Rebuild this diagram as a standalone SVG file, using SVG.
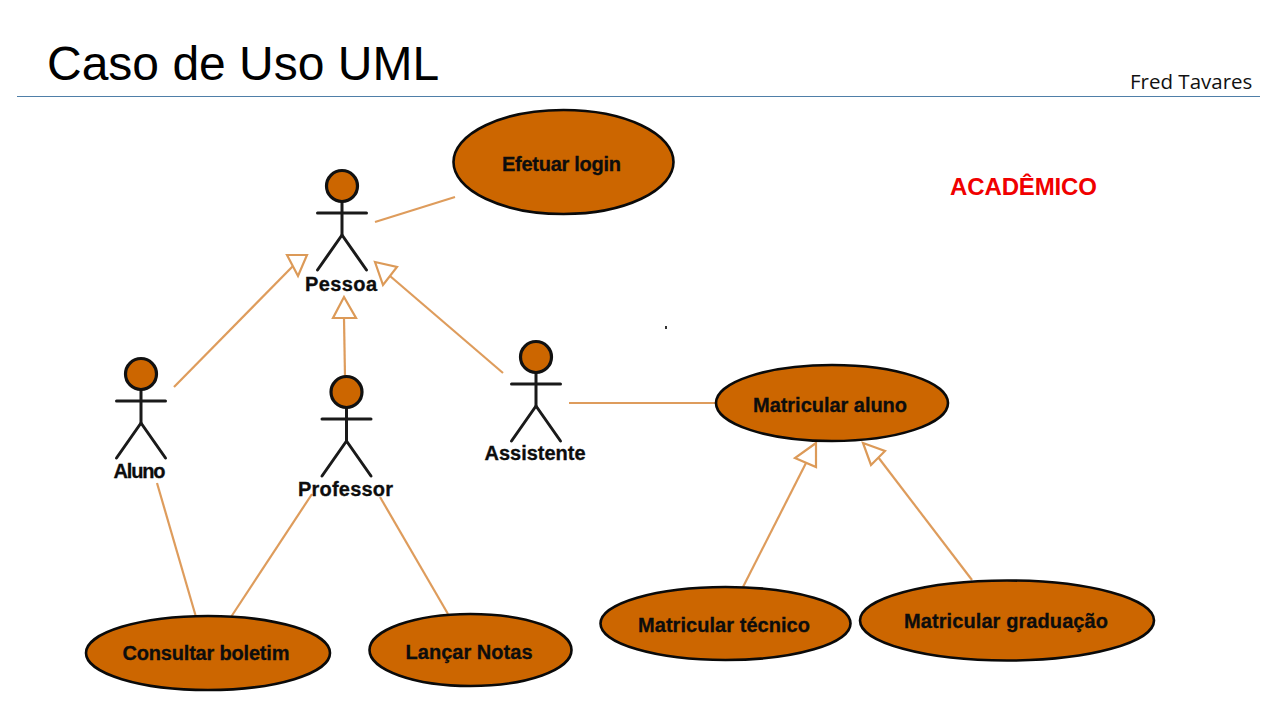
<svg xmlns="http://www.w3.org/2000/svg" xmlns:xlink="http://www.w3.org/1999/xlink" width="1280" height="720" viewBox="0 0 1280 720">
<style>
.uc{fill:#cc6600;stroke:#0a0a0a;stroke-width:2.6}
.head{fill:#cc6600;stroke:#111;stroke-width:3.2}
.lim{fill:none;stroke:#1a1a1a;stroke-width:3;stroke-linecap:round}
.lbl{font-family:"Liberation Sans",Arial,sans-serif;font-weight:700;font-size:20px;fill:#0d0d0d;stroke:#0d0d0d;stroke-width:.3;text-anchor:middle}
.c{fill:none;stroke:#de9c5c;stroke-width:2.2}
.tri{fill:#fff;stroke:#dc9a58;stroke-width:2.2;stroke-linejoin:miter}
</style>
<defs>
<g id="actor">
<line class="lim" x1="0" y1="16" x2="0" y2="49"/>
<line class="lim" x1="-24.500" y1="27" x2="24.500" y2="27"/>
<polyline class="lim" points="-24.500,84 0,49 24.500,84"/>
<circle class="head" cx="0" cy="0" r="15.500"/>
</g>
</defs>
<rect width="1280" height="720" fill="#fff"/>
<text x="47" y="80" font-family="Liberation Sans,Arial,sans-serif" font-size="48" fill="#000">Caso de Uso UML</text>
<text x="1130" y="89" font-family="Open Sans,sans-serif" font-size="20.500" fill="#111">Fred Tavares</text>
<line x1="17" y1="96.500" x2="1260" y2="96.500" stroke="#4f7fa8" stroke-width="1.200"/>
<text x="950" y="194.500" font-family="Liberation Sans,Arial,sans-serif" font-size="24" font-weight="700" fill="#f00000" textLength="147">ACADÊMICO</text>
<rect x="665" y="326" width="2" height="3" fill="#333"/>
<g id="connectors">
<line class="c" x1="375" y1="222" x2="455" y2="197"/>
<line class="c" x1="174" y1="387" x2="293" y2="266"/>
<polygon class="tri" points="307,255 287,255 298,276"/>
<line class="c" x1="345" y1="377" x2="344" y2="318"/>
<polygon class="tri" points="344,297 333,318 356,318"/>
<line class="c" x1="503" y1="373" x2="390" y2="276"/>
<polygon class="tri" points="375,262 397,267 383,285"/>
<line class="c" x1="569" y1="403" x2="716" y2="403"/>
<line class="c" x1="157" y1="483" x2="196" y2="617"/>
<line class="c" x1="312" y1="494" x2="231" y2="617"/>
<line class="c" x1="380" y1="497" x2="448" y2="614"/>
<line class="c" x1="743" y1="587" x2="806" y2="463"/>
<polygon class="tri" points="816,443 795,458 816,467"/>
<line class="c" x1="972" y1="580" x2="878" y2="457"/>
<polygon class="tri" points="863,443 885,451 871,465"/>
</g>
<g id="pessoa"><use xlink:href="#actor" href="#actor" x="342" y="186"/><text class="lbl" x="341" y="291" textLength="72">Pessoa</text></g>
<g id="aluno"><use xlink:href="#actor" href="#actor" x="141" y="374"/><text class="lbl" x="139.500" y="478" textLength="52">Aluno</text></g>
<g id="professor"><use xlink:href="#actor" href="#actor" x="346.500" y="392"/><text class="lbl" x="345.500" y="496" textLength="95">Professor</text></g>
<g id="assistente"><use xlink:href="#actor" href="#actor" x="536" y="357"/><text class="lbl" x="535" y="460" textLength="101">Assistente</text></g>
<g id="efetuar-login"><ellipse class="uc" cx="563.500" cy="162" rx="110" ry="52"/><text class="lbl" x="561.500" y="171" textLength="119">Efetuar login</text></g>
<g id="matricular-aluno"><ellipse class="uc" cx="832" cy="403" rx="116" ry="38"/><text class="lbl" x="830" y="412" textLength="154">Matricular aluno</text></g>
<g id="matricular-tecnico"><ellipse class="uc" cx="725.500" cy="623.500" rx="125" ry="36.500"/><text class="lbl" x="724" y="632" textLength="172">Matricular técnico</text></g>
<g id="matricular-graduacao"><ellipse class="uc" cx="1007" cy="620.500" rx="147" ry="40"/><text class="lbl" x="1006" y="628" textLength="204">Matricular graduação</text></g>
<g id="consultar-boletim"><ellipse class="uc" cx="208" cy="653" rx="122" ry="37"/><text class="lbl" x="206" y="660" textLength="167">Consultar boletim</text></g>
<g id="lancar-notas"><ellipse class="uc" cx="470.500" cy="650" rx="101" ry="36"/><text class="lbl" x="469" y="659" textLength="127">Lançar Notas</text></g>
</svg>
